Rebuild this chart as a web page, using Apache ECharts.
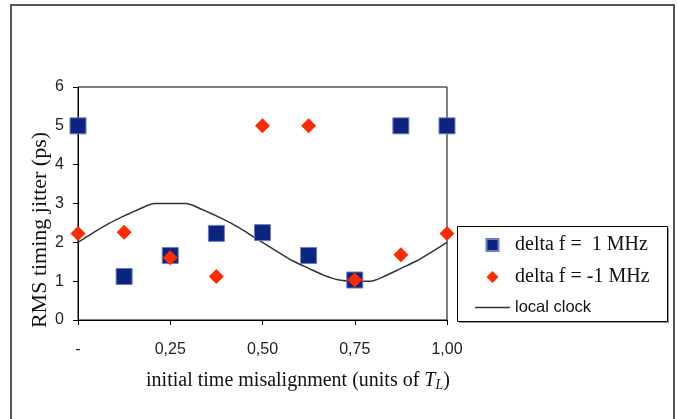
<!DOCTYPE html>
<html><head><meta charset="utf-8">
<script src="https://cdn.jsdelivr.net/npm/echarts@6/dist/echarts.min.js"></script>
<style>html,body{margin:0;padding:0;background:#fff}#c{width:677px;height:419px}</style>
</head><body><div id="c"></div>
<script>
var xTicks = [0, 0.25, 0.5, 0.75, 1.0];
var xPoints = [0, 0.125, 0.25, 0.375, 0.5, 0.625, 0.75, 0.875, 1.0];
var plusOne = [5.0, 1.12, 1.66, 2.23, 2.25, 1.66, 1.03, 5.0, 5.0];
var minusOne = [2.23, 2.26, 1.6, 1.12, 5.0, 5.0, 1.03, 1.68, 2.23];
var clockX = [0, 0.042, 0.083, 0.125, 0.167, 0.208, 0.25, 0.292, 0.333, 0.375, 0.417, 0.458, 0.5, 0.542, 0.583, 0.625, 0.667, 0.708, 0.75, 0.792, 0.833, 0.875, 0.917, 0.958, 1.0];
var clockY = [2.0, 2.25, 2.48, 2.68, 2.86, 3.0, 3.0, 3.0, 2.86, 2.68, 2.48, 2.25, 2.0, 1.75, 1.52, 1.33, 1.15, 1.03, 1.0, 1.0, 1.14, 1.33, 1.52, 1.75, 2.0];
var names = ['delta f =  1 MHz', 'delta f = -1 MHz', 'local clock'];
var yTitle = 'RMS timing jitter (ps)';

function pairs(xs, ys) { return xs.map(function (x, i) { return [x, ys[i]]; }); }

var chart = echarts.init(document.getElementById('c'));
chart.setOption({
  animation: false,
  backgroundColor: '#fff',
  grid: { left: 78, right: 230, top: 87, bottom: 99, show: true, borderColor: '#000', borderWidth: 1, backgroundColor: 'transparent' },
  xAxis: {
    type: 'value', min: 0, max: 1, interval: 0.25,
    axisLine: { lineStyle: { color: '#000', width: 1 } },
    axisTick: { show: true, inside: false, length: 5, lineStyle: { color: '#000' } },
    splitLine: { show: false },
    axisLabel: { margin: 22, color: '#222', fontFamily: 'Liberation Sans', fontSize: 16,
      formatter: function (v) { return v === 0 ? '-' : v.toFixed(2).replace('.', ','); } }
  },
  yAxis: {
    type: 'value', min: 0, max: 6, interval: 1,
    axisLine: { show: true, lineStyle: { color: '#000', width: 1 } },
    axisTick: { show: true, inside: false, length: 5, lineStyle: { color: '#000' } },
    splitLine: { show: false },
    axisLabel: { margin: 14, color: '#222', fontFamily: 'Liberation Sans', fontSize: 16 }
  },
  legend: {
    orient: 'vertical', left: 475, top: 235, itemWidth: 35, itemHeight: 12, itemGap: 12,
    padding: 0, symbolKeepAspect: true,
    data: [
      { name: names[0], icon: 'path://M0,0L10,0L10,10L0,10Z' },
      { name: names[1], icon: 'path://M5,0L10,5L5,10L0,5Z' },
      { name: names[2], icon: 'path://M0,0L35,0L35,1.3L0,1.3Z' }
    ],
    formatter: function (n) { return n === names[2] ? '{s|' + n + '}' : '{r|' + n + '}'; },
    textStyle: {
      color: '#111',
      rich: {
        r: { fontFamily: 'Liberation Serif', fontSize: 20, lineHeight: 16, color: '#111' },
        s: { fontFamily: 'Liberation Sans', fontSize: 16.5, lineHeight: 16, color: '#111' }
      }
    }
  },
  graphic: [
    { type: 'polyline', shape: { points: [[11, 419], [11, 5], [674, 5], [674, 419]] }, style: { stroke: '#555', lineWidth: 2, fill: null } },
    { type: 'rect', shape: { x: 459, y: 228, width: 210, height: 95 }, style: { fill: '#999', stroke: null }, z: -1 },
    { type: 'rect', shape: { x: 457.5, y: 226.5, width: 210, height: 95 }, style: { fill: '#fff', stroke: '#000', lineWidth: 1 }, z: 0 },
    { type: 'text', x: 40, y: 230, rotation: Math.PI / 2, style: {
        text: yTitle, align: 'center', verticalAlign: 'middle',
        fontFamily: 'Liberation Serif', fontSize: 22, fill: '#111' } },
    { type: 'text', x: 298, y: 381, style: {
        text: '{n|initial time misalignment (units of }{i|T}{sub|L}{n|)}',
        align: 'center', verticalAlign: 'middle',
        rich: {
          n: { fontFamily: 'Liberation Serif', fontSize: 20, fill: '#111' },
          i: { fontFamily: 'Liberation Serif', fontSize: 20, fontStyle: 'italic', fill: '#111' },
          sub: { fontFamily: 'Liberation Serif', fontSize: 14, fontStyle: 'italic', fill: '#111', padding: [9, 0, 0, 0] }
        }
      } }
  ],
  series: [
    { name: names[2], type: 'line', data: pairs(clockX, clockY), smooth: 0.3, symbol: 'none',
      lineStyle: { color: '#333', width: 1.5 }, itemStyle: { color: '#333' }, z: 2 },
    { name: names[0], type: 'scatter', data: pairs(xPoints, plusOne), symbol: 'rect', symbolSize: 16,
      itemStyle: { color: '#0a2480', borderColor: '#6a80c0', borderWidth: 1, opacity: 1 }, z: 3 },
    { name: names[1], type: 'scatter', data: pairs(xPoints, minusOne), symbol: 'diamond', symbolSize: 15,
      itemStyle: { color: '#ff2a00', opacity: 1 }, z: 4 }
  ]
});
</script></body></html>
